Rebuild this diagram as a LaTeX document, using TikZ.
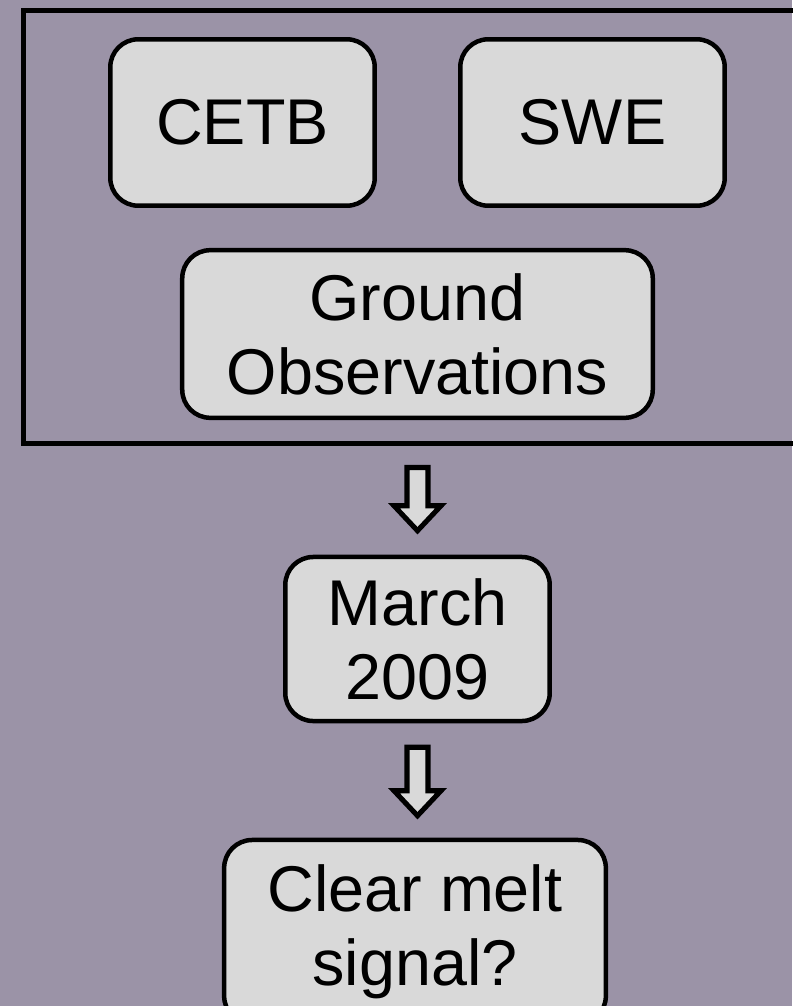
\documentclass[tikz,border=0pt]{standalone}
\usepackage{fontspec}
\setmainfont{Liberation Sans}
\usetikzlibrary{calc,positioning}
\definecolor{SlideMauve}{RGB}{155,147,167}
\definecolor{BoxGray}{RGB}{217,217,217}
\newcommand{\bigfont}{\fontsize{46}{52.6}\selectfont}

\begin{document}
\begin{tikzpicture}[x=0.025cm,y=-0.025cm,
    panel/.style={draw,line width=3.2pt,fill=BoxGray,rounded corners=0.7cm,
      align=center,font=\bigfont,inner sep=0pt},
    frame/.style={draw,line width=3.2pt,inner sep=0pt},
    blockarrow/.style={draw,line width=3.6pt,fill=BoxGray,line join=miter}]
      \fill[SlideMauve] (0,0) rectangle (792,1006);
      \useasboundingbox (0,0) rectangle (792,1006);
      % sources
      \node[frame,minimum width=20.1cm,minimum height=10.81cm] (sources) at (425.5,227) {};
      \node[panel,minimum width=6.61cm,minimum height=4.16cm] (cetb) at (242.5,122.5) {CETB};
      \node[panel,minimum width=6.61cm,minimum height=4.16cm] (swe) at (592.5,122.5) {SWE};
      \node[panel,minimum width=11.76cm,minimum height=4.19cm] (ground) at (417.5,334) {Ground\\Observations};
      % event and result
      \node[panel,minimum width=6.61cm,minimum height=4.1cm] (march) at (417.5,639) {March\\2009};
      \node[panel,minimum width=9.54cm,minimum height=4.6cm] (melt) at (415,932) {Clear melt\\signal?};
      % block arrows
      \coordinate (a1s) at ($(sources.south -| march.north)+(0,22)$);
      \coordinate (a1e) at ($(march.north)+(0,-24)$);
      \coordinate (a2s) at ($(march.south)+(0,24)$);
      \coordinate (a2e) at ($(melt.north -| march.south)+(0,-22)$);
      \foreach \s/\e in {a1s/a1e,a2s/a2e}
        \draw[blockarrow] ($(\s)+(-10.5,0)$) -- ($(\s)+(10.5,0)$) -- ($(\e)+(10.5,-25)$)
          -- ($(\e)+(23.5,-25)$) -- (\e) -- ($(\e)+(-23.5,-25)$) -- ($(\e)+(-10.5,-25)$) -- cycle;
    \end{tikzpicture}
\end{document}
